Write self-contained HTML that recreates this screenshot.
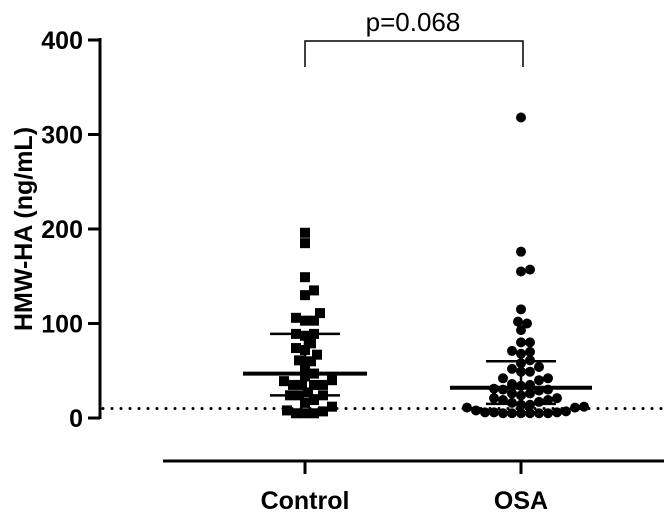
<!DOCTYPE html>
<html><head><meta charset="utf-8"><style>
body{margin:0;background:#fff}
svg{display:block;font-family:"Liberation Sans",Arial,sans-serif}
</style></head><body>
<svg id="c" width="665" height="517"></svg>
<script>
const categories=["Control","OSA"];
const controlValues=[196,185,149,135,130,111,103,106,103,89,87,89,79,72,67,74,61,60,53,47,44,35,35,35,35,40,39,27,24,24,24,19,16,12,7,5,5,8,5];
const osaValues=[318,176,155,157,115,100,102,93,80,80,70,71,68,61,54,58,52,49,49,40,42,42,36,34,30,35,30,29,31,24,26,26,21,21,14,11,14,12,19,16,17,5,5,8,6,5,6,7,5,6,5,5,11,19];
const medians=[47,32];
const q1=[24,15];
const q3=[89,60];
const yTicks=[0,100,200,300,400];
const pText="p=0.068";
const refLine=10;

const NS="http://www.w3.org/2000/svg";
const svg=document.getElementById('c');
const y=v=>418-v*(378/400);
const xc=[305,521];
function el(t,a,p){const e=document.createElementNS(NS,t);for(const k in a)e.setAttribute(k,a[k]);(p||svg).appendChild(e);return e;}
let a=el('line',{x1:100,y1:38,x2:100,y2:419,stroke:'#000','stroke-width':3});


yTicks.forEach(t=>{
  let l=el('line',{x1:88,x2:100,y1:y(t),y2:y(t),stroke:'#000','stroke-width':3});
  
  
  let tx=el('text',{x:83,y:y(t)+9,'text-anchor':'end','font-size':25,'font-weight':'bold'});
  tx.textContent=t;
  
  
});
let yt=el('text',{transform:'translate(32,229) rotate(-90)','text-anchor':'middle','font-size':25,'font-weight':'bold'});
yt.textContent='HMW-HA (ng/mL)';


let xa=el('line',{x1:163,x2:664,y1:461,y2:461,stroke:'#000','stroke-width':3});


categories.forEach((c,i)=>{
  let l=el('line',{x1:xc[i],x2:xc[i],y1:461,y2:474,stroke:'#000','stroke-width':3});
  
  
  let t=el('text',{x:xc[i],y:509,'text-anchor':'middle','font-size':25,'font-weight':'bold'});
  t.textContent=c;
  
  
});
let rl=el('line',{x1:103,x2:665,y1:y(refLine),y2:y(refLine),stroke:'#000','stroke-width':3,'stroke-dasharray':'0 9','stroke-linecap':'round'});


function swarm(vals,cx,sq){
  const placed=[];const r=5.2;
  [...vals].sort((p,q)=>p-q).forEach(v=>{
    const py=y(v);let off=0;
    for(let k=0;k<200;k++){
      const cand=k===0?0:(k%2?1:-1)*Math.ceil(k/2)*3;
      if(placed.every(p=>Math.hypot(p[0]-(cx+cand),p[1]-py)>=2*r-2)){off=cand;break;}
    }
    placed.push([cx+off,py]);
    let m=sq?el('rect',{x:cx+off-5,y:py-5,width:10,height:10,fill:'#000'}):el('circle',{cx:cx+off,cy:py,r:5,fill:'#000'});
    
    
  });
}
swarm(controlValues,xc[0],true);
swarm(osaValues,xc[1],false);
const mw=[62,71],qw=[35,35];
categories.forEach((c,i)=>{
  let m=el('line',{x1:xc[i]-mw[i],x2:xc[i]+mw[i],y1:y(medians[i]),y2:y(medians[i]),stroke:'#000','stroke-width':4});
  
  
  let v=el('line',{x1:xc[i],x2:xc[i],y1:y(q3[i]),y2:y(q1[i]),stroke:'#000','stroke-width':2.5});
  
  
  [q1[i],q3[i]].forEach(q=>{
    let h=el('line',{x1:xc[i]-qw[i],x2:xc[i]+qw[i],y1:y(q),y2:y(q),stroke:'#000','stroke-width':2.5});
    
    
  });
});
let b=el('path',{d:`M${xc[0]},67 V41 H${xc[1]+2} V67`,fill:'none',stroke:'#000','stroke-width':1.5});


let p=el('text',{x:(xc[0]+xc[1])/2,y:31,'text-anchor':'middle','font-size':26});
p.textContent=pText;


</script>
</body></html>
